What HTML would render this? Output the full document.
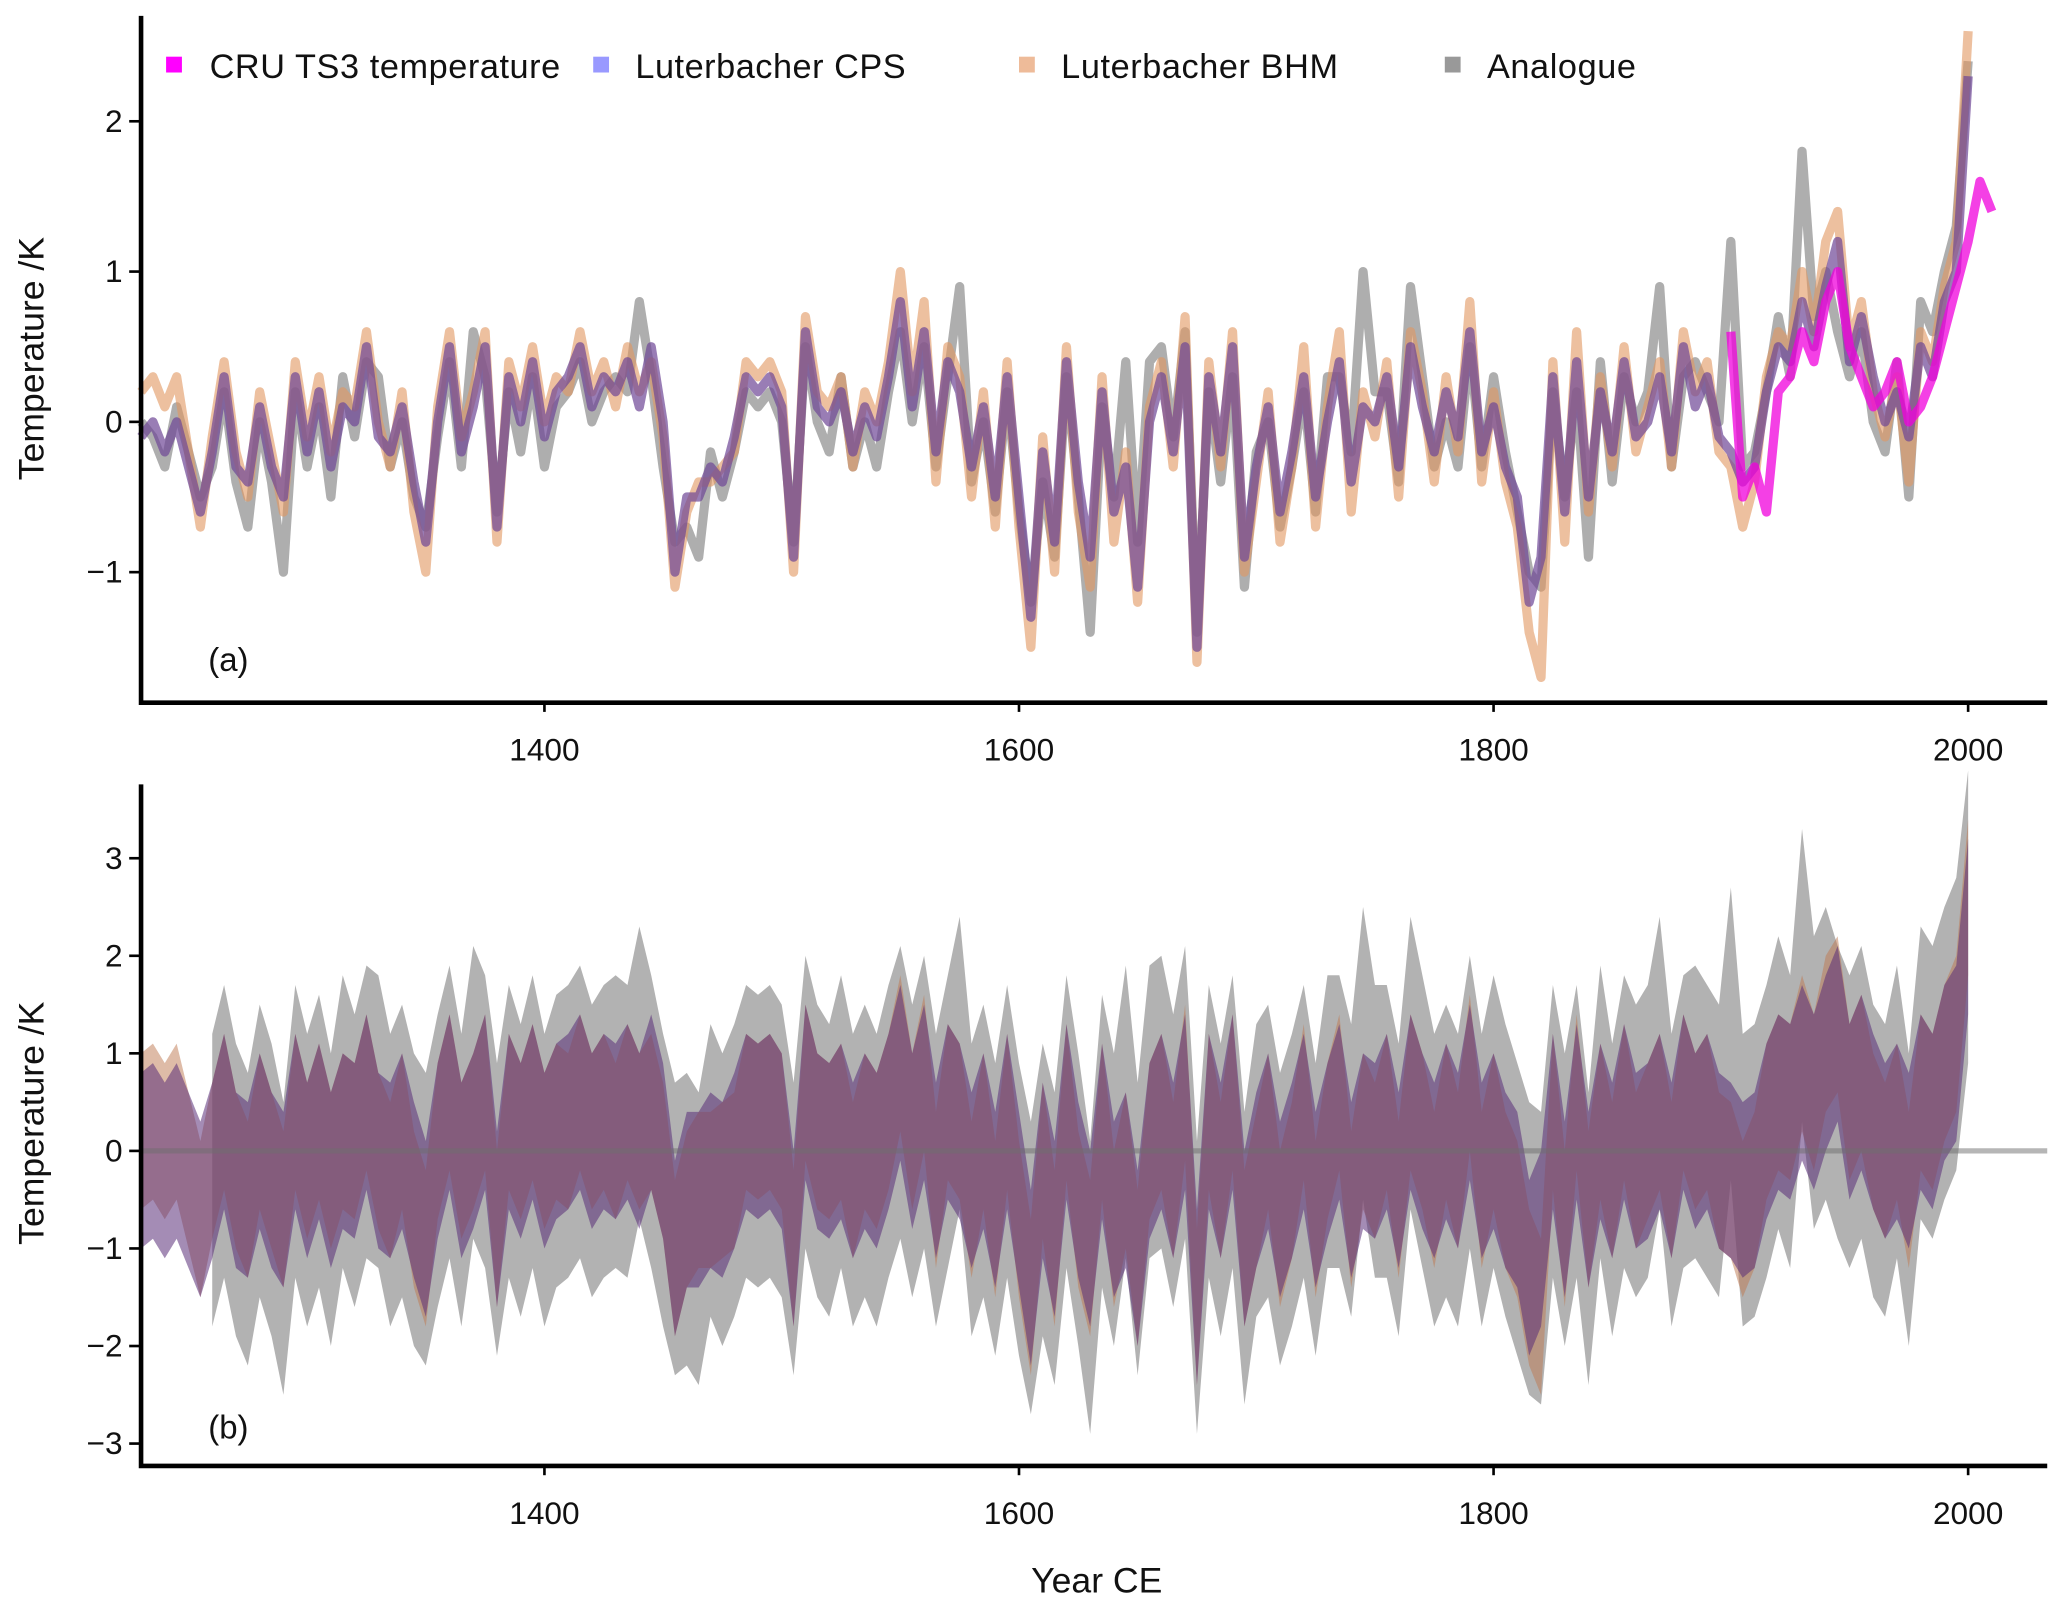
<!DOCTYPE html>
<html><head><meta charset="utf-8"><style>
html,body{margin:0;padding:0;background:#fff}
svg{display:block}
text{font-family:"Liberation Sans",sans-serif;fill:#111}
</style></head><body>
<svg id="chart" width="2067" height="1611" viewBox="0 0 1568 1222" preserveAspectRatio="none" xmlns="http://www.w3.org/2000/svg">
<g id="pa"></g>
<g id="pb"></g>
<g id="legend">
 <g><rect x="126" y="43" width="12" height="12" fill="#ff00ff"/><text x="159" y="59" font-size="26" textLength="266">CRU TS3 temperature</text></g>
 <g><rect x="450" y="43" width="12" height="12" fill="#9999ff"/><text x="482" y="59" font-size="26" textLength="205">Luterbacher CPS</text></g>
 <g><rect x="773" y="43" width="12" height="12" fill="#eebb99"/><text x="805" y="59" font-size="26" textLength="210">Luterbacher BHM</text></g>
 <g><rect x="1096" y="43" width="12" height="12" fill="#999999"/><text x="1128" y="59" font-size="26" textLength="113">Analogue</text></g>
</g>
<text x="158" y="509" font-size="25">(a)</text>
<text x="158" y="1091" font-size="25">(b)</text>
<text transform="translate(33,272) rotate(-90)" text-anchor="middle" font-size="27">Temperature /K</text>
<text transform="translate(33,852) rotate(-90)" text-anchor="middle" font-size="27">Temperature /K</text>
<text x="832" y="1208" text-anchor="middle" font-size="27">Year CE</text>
</svg>
<script>
const startYear = 1230, stepYears = 5;
const cps = [-0.1,0.0,-0.2,0.0,-0.3,
-0.6,-0.2,0.3,-0.3,-0.4,0.1,-0.3,-0.5,0.3,-0.2,
0.2,-0.3,0.1,0.0,0.5,-0.1,-0.2,0.1,-0.4,-0.8,
0.0,0.5,-0.2,0.1,0.5,-0.7,0.3,0.0,0.4,-0.1,
0.2,0.3,0.5,0.1,0.3,0.2,0.4,0.1,0.5,0.0,
-1.0,-0.5,-0.5,-0.3,-0.4,-0.1,0.3,0.2,0.3,0.1,
-0.9,0.6,0.1,0.0,0.2,-0.2,0.1,-0.1,0.3,0.8,
0.1,0.6,-0.2,0.4,0.2,-0.3,0.1,-0.5,0.3,-0.5,
-1.3,-0.2,-0.8,0.4,-0.4,-0.9,0.2,-0.6,-0.3,-1.1,
0.0,0.3,-0.2,0.5,-1.5,0.3,-0.2,0.5,-0.9,-0.3,
0.1,-0.6,-0.2,0.3,-0.5,0.0,0.4,-0.4,0.1,0.0,
0.3,-0.3,0.5,0.1,-0.2,0.2,-0.1,0.6,-0.2,0.1,
-0.3,-0.5,-1.2,-0.9,0.3,-0.6,0.4,-0.5,0.2,-0.2,
0.4,-0.1,0.0,0.3,-0.2,0.5,0.1,0.3,-0.1,-0.2,
-0.4,-0.3,0.2,0.5,0.4,0.8,0.5,0.9,1.2,0.4,
0.7,0.3,0.0,0.2,-0.1,0.5,0.3,0.8,1.0,2.3];
const bhm = [0.2,0.3,0.1,0.3,-0.2,
-0.7,-0.1,0.4,-0.2,-0.5,0.2,-0.2,-0.6,0.4,-0.1,
0.3,-0.2,0.2,0.1,0.6,0.0,-0.3,0.2,-0.6,-1.0,
0.1,0.6,-0.1,0.2,0.6,-0.8,0.4,0.1,0.5,0.0,
0.3,0.2,0.6,0.2,0.4,0.1,0.5,0.2,0.4,-0.1,
-1.1,-0.6,-0.4,-0.4,-0.3,-0.2,0.4,0.3,0.4,0.2,
-1.0,0.7,0.2,0.1,0.3,-0.3,0.2,0.0,0.4,1.0,
0.2,0.8,-0.4,0.5,0.3,-0.5,0.2,-0.7,0.4,-0.7,
-1.5,-0.1,-1.0,0.5,-0.6,-1.1,0.3,-0.8,-0.2,-1.2,
0.1,0.4,-0.3,0.7,-1.6,0.4,-0.3,0.6,-1.0,-0.4,
0.2,-0.8,-0.3,0.5,-0.7,0.1,0.6,-0.6,0.2,-0.1,
0.4,-0.5,0.6,0.2,-0.4,0.3,-0.2,0.8,-0.4,0.2,
-0.4,-0.7,-1.4,-1.7,0.4,-0.8,0.6,-0.6,0.3,-0.3,
0.5,-0.2,0.1,0.4,-0.3,0.6,0.2,0.4,-0.2,-0.3,
-0.7,-0.4,0.3,0.6,0.5,1.0,0.6,1.2,1.4,0.5,
0.8,0.2,-0.1,0.3,-0.4,0.6,0.4,0.9,1.2,2.6];
const analogue = [0.0,-0.1,-0.3,0.1,-0.2,
-0.5,-0.3,0.2,-0.4,-0.7,0.0,-0.4,-1.0,0.2,-0.3,
0.1,-0.5,0.3,-0.1,0.4,0.3,-0.3,0.0,-0.5,-0.7,
-0.1,0.4,-0.3,0.6,0.3,-0.6,0.2,-0.2,0.3,-0.3,
0.1,0.2,0.4,0.0,0.2,0.3,0.2,0.8,0.3,-0.3,
-0.8,-0.7,-0.9,-0.2,-0.5,-0.2,0.2,0.1,0.2,0.0,
-0.8,0.5,0.0,-0.2,0.3,-0.3,0.0,-0.3,0.2,0.6,
0.0,0.5,-0.3,0.3,0.9,-0.4,0.0,-0.6,0.2,-0.6,
-1.2,-0.4,-0.9,0.3,-0.5,-1.4,0.1,-0.5,0.4,-0.8,
0.4,0.5,-0.1,0.6,-1.4,0.2,-0.4,0.3,-1.1,-0.2,
0.0,-0.7,-0.3,0.2,-0.6,0.3,0.3,-0.2,1.0,0.2,
0.2,-0.4,0.9,0.3,-0.3,0.0,-0.3,0.5,-0.3,0.3,
-0.2,-0.6,-1.0,-1.1,0.2,-0.5,0.2,-0.9,0.4,-0.4,
0.3,0.0,0.2,0.9,-0.3,0.3,0.4,0.2,0.0,1.2,
-0.3,-0.2,0.2,0.7,0.3,1.8,0.7,1.0,0.6,0.3,
0.6,0.0,-0.2,0.4,-0.5,0.8,0.6,1.0,1.3,2.4];
const cruStart = 1900;
const cru = [0.6,-0.5,-0.3,-0.6,0.2,0.3,0.6,0.4,0.8,1.0,0.5,0.3,0.1,0.2,0.4,0.0,0.1,0.3,0.6,0.9,1.2,1.6,1.4];
const analogueStart = 1260;
const cpsHalfWidth = 0.9, bhmHalfWidth = 0.8, analogueHalfWidth = 1.5;
const xTicks = [1400,1600,1800,2000];
const yTicksA = [-1,0,1,2];
const yTicksB = [-3,-2,-1,0,1,2,3];

const NS = "http://www.w3.org/2000/svg";
const xL = 107, xR = 1553;
function xs(yr){ return 413 + (yr-1400)*1.8; }
function ya(v){ return 320 - v*114; }
function yb(v){ return 873 - v*74; }
function mk(parent, tag, attrs){ const e=document.createElementNS(NS,tag); for(const k in attrs) e.setAttribute(k,attrs[k]); parent.appendChild(e); return e; }
const pa = document.getElementById('pa'), pb = document.getElementById('pb');

function linePath(arr, y0, ys, yf){ return arr.map((v,i)=>(i?'L':'M')+xs(y0+i*stepYears).toFixed(1)+','+yf(v).toFixed(1)).join(''); }

[[analogue,'rgba(120,120,120,0.6)','line-analogue'],[bhm,'rgba(225,150,95,0.6)','line-bhm'],[cps,'rgba(110,70,150,0.7)','line-cps']].forEach(s=>{
  const p = mk(pa,'path',{d:linePath(s[0],startYear,stepYears,ya),fill:'none',stroke:s[1],'stroke-width':7,'stroke-linejoin':'round'});
  
  
});
const cruLine = mk(pa,'path',{d:linePath(cru,cruStart,stepYears,ya),fill:'none',stroke:'rgba(240,0,220,0.75)','stroke-width':7,'stroke-linejoin':'round'});



function bandPath(arr, hw, fromYear){
  const pts=[]; const lo=[];
  arr.forEach((v,i)=>{ const yr=startYear+i*stepYears; if(yr<fromYear) return; pts.push(xs(yr).toFixed(1)+','+yb(v+hw).toFixed(1)); lo.unshift(xs(yr).toFixed(1)+','+yb(v-hw).toFixed(1)); });
  return 'M'+pts.join('L')+'L'+lo.join('L')+'Z';
}
const bA = mk(pb,'path',{d:bandPath(analogue,analogueHalfWidth,analogueStart),fill:'rgba(170,170,170,0.9)'});


const bB = mk(pb,'path',{d:bandPath(bhm,bhmHalfWidth,startYear),fill:'rgba(190,120,80,0.5)'});


const bC = mk(pb,'path',{d:bandPath(cps,cpsHalfWidth,startYear),fill:'rgba(90,45,120,0.55)'});


const zl = mk(pb,'line',{x1:xL,x2:xR,y1:yb(0),y2:yb(0),stroke:'rgba(110,110,110,0.5)','stroke-width':4});



function axes(g, yTop, yBot, ticks, yf, name){
  const ax = mk(g,'path',{d:`M${xL},${yTop}L${xL},${yBot}L${xR},${yBot}`,fill:'none',stroke:'#000','stroke-width':3.5});
  
  
  ticks.forEach(t=>{
    mk(g,'line',{x1:xL-9,x2:xL,y1:yf(t),y2:yf(t),stroke:'#000','stroke-width':2});
    const tx = mk(g,'text',{x:xL-14,y:yf(t)+8,'text-anchor':'end','font-size':24});
    tx.textContent = t<0 ? '\u2212'+Math.abs(t) : String(t);
    
    
  });
  xTicks.forEach(t=>{
    mk(g,'line',{x1:xs(t),x2:xs(t),y1:yBot,y2:yBot+7,stroke:'#000','stroke-width':2});
    const tx = mk(g,'text',{x:xs(t),y:yBot+44,'text-anchor':'middle','font-size':24});
    tx.textContent = String(t);
    
    
  });
}
axes(pa, 12, 533, yTicksA, ya, 'panel-a');
axes(pb, 595, 1112, yTicksB, yb, 'panel-b');
</script>
</body></html>
